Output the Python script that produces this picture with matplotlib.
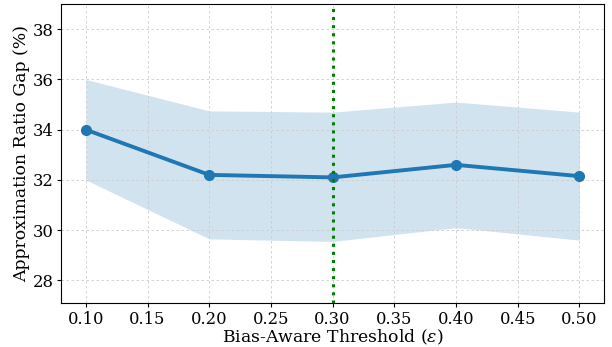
import matplotlib.pyplot as plt

plt.rcParams['font.family'] = 'DejaVu Serif'
plt.rcParams['mathtext.fontset'] = 'dejavuserif'

thresholds = [0.10, 0.20, 0.30, 0.40, 0.50]
gap_mean = [34.0, 32.2, 32.1, 32.6, 32.15]
gap_low = [32.0, 29.65, 29.55, 30.1, 29.6]
gap_high = [36.0, 34.75, 34.7, 35.1, 34.7]
chosen_threshold = 0.30

fig, ax = plt.subplots(figsize=(6.12, 3.47), dpi=100)
ax.fill_between(thresholds, gap_low, gap_high, color='tab:blue', alpha=0.2, linewidth=0)
ax.plot(thresholds, gap_mean, color='tab:blue', linewidth=2.8, marker='o', markersize=7)
ax.axvline(chosen_threshold, color='green', linestyle=':', linewidth=2.2)

ax.set_xlim(0.08, 0.52)
ax.set_ylim(27.1, 39)
ax.set_xticks([0.10, 0.15, 0.20, 0.25, 0.30, 0.35, 0.40, 0.45, 0.50])
ax.set_xticklabels(['%.2f' % t for t in ax.get_xticks()])
ax.set_yticks([28, 30, 32, 34, 36, 38])
ax.tick_params(labelsize=11.8, length=3, pad=2.5)
ax.set_xlabel(r'Bias-Aware Threshold ($\epsilon$)', fontsize=12.4, labelpad=0)
ax.set_ylabel('Approximation Ratio Gap (%)', fontsize=12.4, labelpad=2)
ax.grid(True, linestyle=(0, (3, 3)), linewidth=0.6, color='#cccccc')

fig.subplots_adjust(left=0.1, right=0.987, top=0.988, bottom=0.127)
fig.savefig('out.png')
